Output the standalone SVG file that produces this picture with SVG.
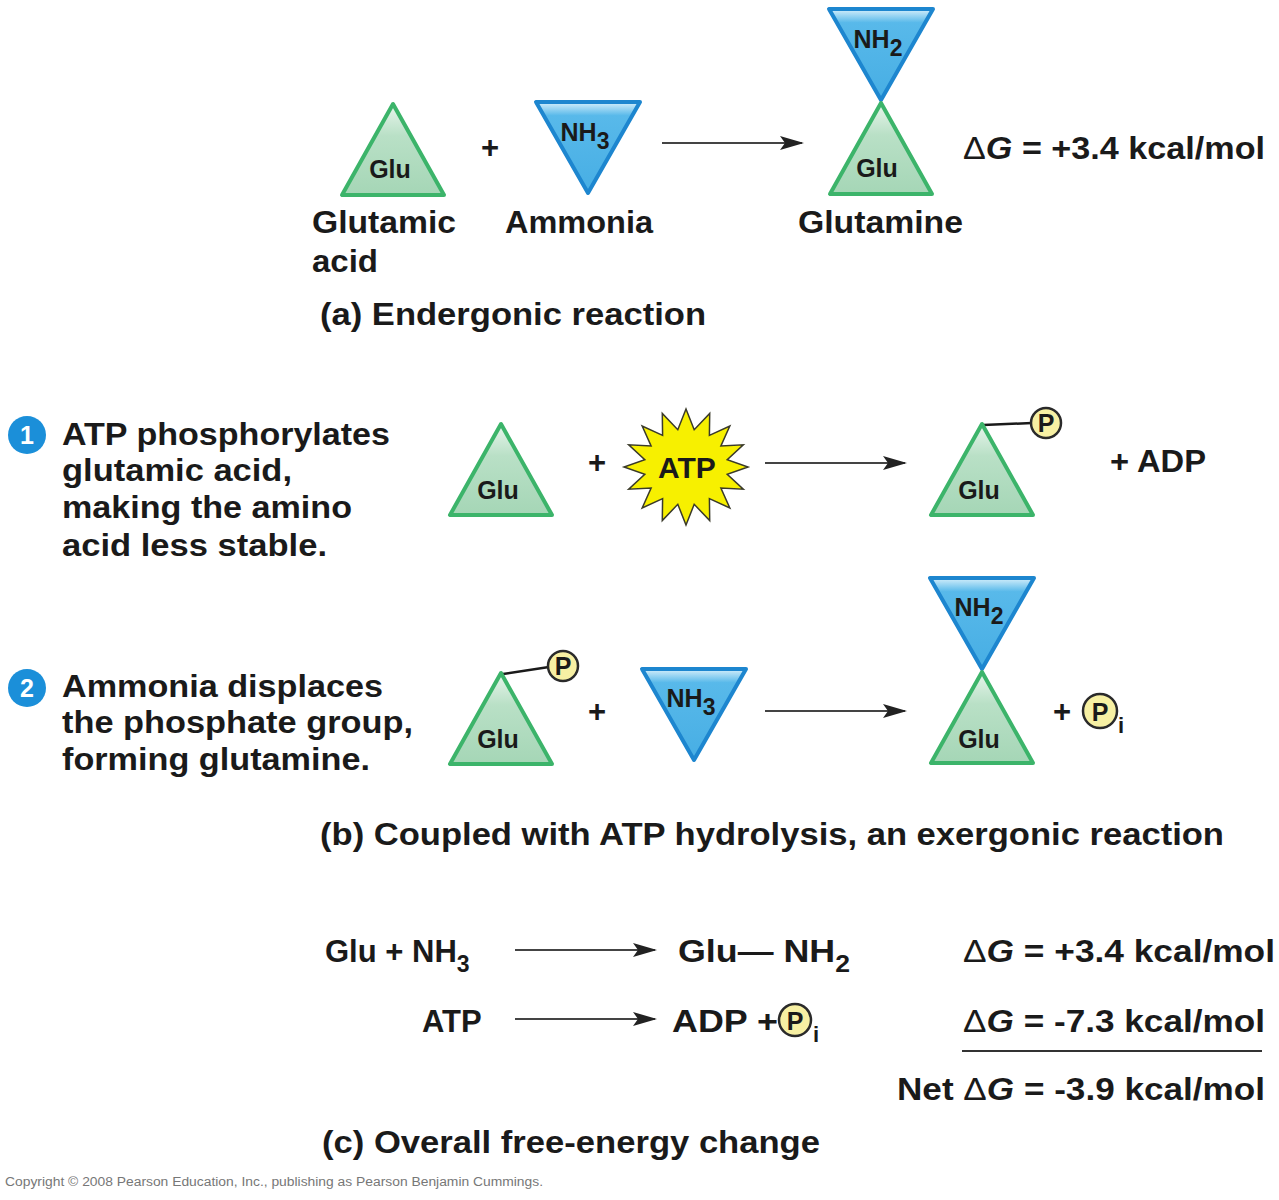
<svg xmlns="http://www.w3.org/2000/svg" width="1279" height="1200" viewBox="0 0 1279 1200">
<style>
text{font-family:"Liberation Sans",Arial,Helvetica,sans-serif;font-weight:bold;fill:#1a1a1a}
.lbl{font-size:31px}
.eq{font-size:31px}
.in{font-size:25px;text-anchor:middle}
.sub{font-size:23px}
.glu{fill:url(#gG);stroke:#3cb46a;stroke-width:4;stroke-linejoin:round}
.nh{fill:url(#gB);stroke:#1d86cf;stroke-width:4;stroke-linejoin:round}
.pc{fill:#f7f0a3;stroke:#2a2a2a;stroke-width:2.5}
.pt{font-size:25px;text-anchor:middle}
.bond{stroke:#1a1a1a;stroke-width:2.5}
.arr{stroke:#444;stroke-width:2;fill:none;marker-end:url(#ah)}
.num{fill:#1b8fd9}
.numt{fill:#fff;font-size:25px;text-anchor:middle}
</style>
<defs>
<linearGradient id="gG" x1="0" y1="0" x2="0" y2="1">
<stop offset="0" stop-color="#e8f5ec"/><stop offset="0.35" stop-color="#b9e0c6"/><stop offset="1" stop-color="#a5d6b6"/>
</linearGradient>
<linearGradient id="gB" x1="0" y1="0" x2="0" y2="1">
<stop offset="0" stop-color="#d6effb"/><stop offset="0.15" stop-color="#58b9ea"/><stop offset="1" stop-color="#47aee4"/>
</linearGradient>
<marker id="ah" viewBox="0 0 24 14" refX="22" refY="7" markerWidth="24" markerHeight="14" markerUnits="userSpaceOnUse" orient="auto">
<path d="M0,0 L24,7 L0,14 L5,7 Z" fill="#222"/>
</marker>
<path id="triG" d="M0,0 L-51,91 L51,91 Z"/>
<path id="triB" d="M-52,0 L52,0 L0,91 Z"/>
</defs>

<g id="connectors">
<line class="arr" x1="662" y1="143" x2="802" y2="143"/>
<line class="arr" x1="765" y1="463" x2="905" y2="463"/>
<line class="arr" x1="765" y1="711" x2="905" y2="711"/>
<line class="arr" x1="515" y1="950" x2="655" y2="950"/>
<line class="arr" x1="515" y1="1019" x2="655" y2="1019"/>
</g>

<!-- (a) -->
<g id="a-glu">
<use href="#triG" class="glu" x="393" y="104"/>
<text class="in" x="390" y="178">Glu</text>
</g>
<g id="a-plus"><text class="eq" x="490" y="158" text-anchor="middle">+</text></g>
<g id="a-nh3">
<use href="#triB" class="nh" x="588" y="102"/>
<text class="in" x="585" y="141">NH<tspan class="sub" dy="8">3</tspan></text>
</g>
<g id="a-gln">
<use href="#triB" class="nh" x="881" y="9"/>
<text class="in" x="878" y="48">NH<tspan class="sub" dy="8">2</tspan></text>
<use href="#triG" class="glu" x="881" y="103"/>
<text class="in" x="877" y="177">Glu</text>
</g>
<g id="a-labels">
<text class="lbl" x="312" y="233" textLength="144" lengthAdjust="spacingAndGlyphs">Glutamic</text>
<text class="lbl" x="312" y="272" textLength="66" lengthAdjust="spacingAndGlyphs">acid</text>
<text class="lbl" x="505" y="233" textLength="148" lengthAdjust="spacingAndGlyphs">Ammonia</text>
<text class="lbl" x="798" y="233" textLength="165" lengthAdjust="spacingAndGlyphs">Glutamine</text>
<text class="eq" x="963" y="159" textLength="302" lengthAdjust="spacingAndGlyphs"><tspan font-weight="normal">Δ</tspan><tspan font-style="italic">G</tspan> = +3.4 kcal/mol</text>
<text class="lbl" x="320" y="325" textLength="386" lengthAdjust="spacingAndGlyphs">(a) Endergonic reaction</text>
</g>

<!-- (b) step texts -->
<g id="step1">
<circle class="num" cx="27" cy="435" r="19"/>
<text class="numt" x="27" y="444">1</text>
<text class="lbl" x="62" y="445" textLength="328" lengthAdjust="spacingAndGlyphs">ATP phosphorylates</text>
<text class="lbl" x="62" y="481" textLength="230" lengthAdjust="spacingAndGlyphs">glutamic acid,</text>
<text class="lbl" x="62" y="518" textLength="290" lengthAdjust="spacingAndGlyphs">making the amino</text>
<text class="lbl" x="62" y="556" textLength="265" lengthAdjust="spacingAndGlyphs">acid less stable.</text>
</g>
<g id="step2">
<circle class="num" cx="27" cy="688" r="19"/>
<text class="numt" x="27" y="697">2</text>
<text class="lbl" x="62" y="697" textLength="321" lengthAdjust="spacingAndGlyphs">Ammonia  displaces</text>
<text class="lbl" x="62" y="733" textLength="351" lengthAdjust="spacingAndGlyphs">the phosphate group,</text>
<text class="lbl" x="62" y="770" textLength="308" lengthAdjust="spacingAndGlyphs">forming glutamine.</text>
</g>

<!-- (b) row 1 -->
<g id="b1-glu">
<use href="#triG" class="glu" x="501" y="424"/>
<text class="in" x="498" y="499">Glu</text>
</g>
<g id="b1-plus"><text class="eq" x="597" y="473" text-anchor="middle">+</text></g>
<g id="b1-atp">
<polygon points="748,467 727.2,474.4 743.3,489.2 720.9,488.1 729.8,508 709.4,498.6 709.7,520.6 694.2,504.3 686,525 677.8,504.3 662.3,520.6 662.6,498.6 642.2,508 651.1,488.1 628.7,489.2 644.8,474.4 624,467 644.8,459.6 628.7,444.8 651.1,445.9 642.2,426 662.6,435.4 662.3,413.4 677.8,429.7 686,409 694.2,429.7 709.7,413.4 709.4,435.4 729.8,426 720.9,445.9 743.3,444.8 727.2,459.6" fill="#f7f000" stroke="#3a3a2a" stroke-width="1.5" stroke-linejoin="miter"/>
<text x="687" y="478" text-anchor="middle" font-size="30">ATP</text>
</g>
<g id="b1-glup">
<line class="bond" x1="983" y1="425" x2="1032" y2="423"/>
<use href="#triG" class="glu" x="982" y="424"/>
<text class="in" x="979" y="499">Glu</text>
<circle class="pc" cx="1046" cy="423" r="15"/>
<text class="pt" x="1046" y="432">P</text>
</g>
<g id="b1-adp"><text class="eq" x="1110" y="472" textLength="96" lengthAdjust="spacingAndGlyphs">+ ADP</text></g>

<!-- (b) row 2 -->
<g id="b2-glup">
<line class="bond" x1="503" y1="674" x2="549" y2="667"/>
<use href="#triG" class="glu" x="501" y="673"/>
<text class="in" x="498" y="748">Glu</text>
<circle class="pc" cx="563" cy="666" r="15"/>
<text class="pt" x="563" y="675">P</text>
</g>
<g id="b2-plus"><text class="eq" x="597" y="722" text-anchor="middle">+</text></g>
<g id="b2-nh3">
<use href="#triB" class="nh" x="694" y="669"/>
<text class="in" x="691" y="707">NH<tspan class="sub" dy="8">3</tspan></text>
</g>
<g id="b2-gln">
<use href="#triB" class="nh" x="982" y="578"/>
<text class="in" x="979" y="616">NH<tspan class="sub" dy="8">2</tspan></text>
<use href="#triG" class="glu" x="982" y="672"/>
<text class="in" x="979" y="748">Glu</text>
</g>
<g id="b2-pi">
<text class="eq" x="1062" y="722" text-anchor="middle">+</text>
<circle class="pc" cx="1100" cy="711" r="17"/>
<text class="pt" x="1100" y="721" font-size="28">P</text>
<text x="1118" y="733" font-size="22">i</text>
</g>
<g id="b-caption">
<text class="lbl" x="320" y="845" textLength="904" lengthAdjust="spacingAndGlyphs">(b) Coupled with ATP hydrolysis, an exergonic reaction</text>
</g>

<!-- (c) -->
<g id="c-eq1">
<text class="eq" x="325" y="962">Glu + NH<tspan class="sub" dy="10" font-size="27">3</tspan></text>
<text class="eq" x="678" y="962" textLength="172" lengthAdjust="spacingAndGlyphs">Glu— NH<tspan class="sub" dy="10" font-size="27">2</tspan></text>
</g>
<g id="c-eq2">
<text class="eq" x="422" y="1032">ATP</text>
<text class="eq" x="672" y="1032" textLength="106" lengthAdjust="spacingAndGlyphs">ADP +</text>
<circle class="pc" cx="795" cy="1020" r="16"/>
<text class="pt" x="795" y="1030" font-size="27">P</text>
<text x="813" y="1042" font-size="22">i</text>
</g>
<g id="c-dg">
<text class="eq" x="963" y="962" textLength="312" lengthAdjust="spacingAndGlyphs"><tspan font-weight="normal">Δ</tspan><tspan font-style="italic">G</tspan> = +3.4 kcal/mol</text>
<text class="eq" x="963" y="1032" textLength="302" lengthAdjust="spacingAndGlyphs"><tspan font-weight="normal">Δ</tspan><tspan font-style="italic">G</tspan> = -7.3 kcal/mol</text>
<line x1="962" y1="1051" x2="1262" y2="1051" stroke="#333" stroke-width="2"/>
<text class="eq" x="897" y="1100" textLength="368" lengthAdjust="spacingAndGlyphs">Net <tspan font-weight="normal">Δ</tspan><tspan font-style="italic">G</tspan> = -3.9 kcal/mol</text>
</g>
<g id="c-caption">
<text class="lbl" x="322" y="1153" textLength="498" lengthAdjust="spacingAndGlyphs">(c) Overall free-energy change</text>
</g>
<text x="5" y="1186" font-size="12" style="fill:#777;font-weight:normal" textLength="538" lengthAdjust="spacingAndGlyphs">Copyright © 2008 Pearson Education, Inc., publishing as Pearson Benjamin Cummings.</text>
</svg>
